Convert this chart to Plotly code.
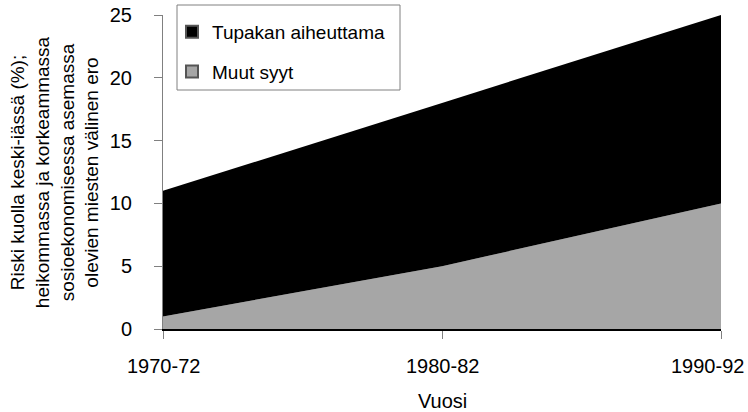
import plotly.graph_objects as go

# Data
vuodet = ["1970-72", "1980-82", "1990-92"]
muut_syyt = [1, 5, 10]
tupakan_aiheuttama = [10, 13, 15]
y_tikit = [0, 5, 10, 15, 20, 25]

y_otsikko = ("Riski kuolla keski-iässä (%);<br>heikommassa ja korkeammassa<br>"
             "sosioekonomisessa asemassa<br>olevien miesten välinen ero")

FONT = "Liberation Sans, Arial, sans-serif"
W, H = 748, 412

fig = go.Figure()

# pinotut alueet
fig.add_trace(go.Scatter(
    x=vuodet, y=muut_syyt, stackgroup="a", mode="none",
    fillcolor="#a6a6a6", showlegend=False
))
fig.add_trace(go.Scatter(
    x=vuodet, y=tupakan_aiheuttama, stackgroup="a", mode="none",
    fillcolor="#000000", showlegend=False
))

# selitteet neliömerkeillä
fig.add_trace(go.Scatter(
    x=[None], y=[None], mode="markers", name="Tupakan aiheuttama", legendgroup="t",
    marker=dict(symbol="square", size=13, color="#000000", line=dict(color="#555", width=1))
))
fig.add_trace(go.Scatter(
    x=[None], y=[None], mode="markers", name="Muut syyt", legendgroup="m",
    marker=dict(symbol="square", size=13, color="#a6a6a6", line=dict(color="#555", width=1))
))

# x-akselin tikkitekstit annotaatioina (viimeinen siirretty vasemmalle kuten Excelissä)
tikki_annot = []
for i, v in enumerate(vuodet):
    viimeinen = i == len(vuodet) - 1
    tikki_annot.append(dict(
        text=v, x=v, xref="x", y=0, yref="paper", yshift=-37,
        xanchor="right" if viimeinen else "center", xshift=25 if viimeinen else 0,
        yanchor="middle", showarrow=False, font=dict(family=FONT, size=20),
    ))

fig.update_layout(
    width=W, height=H,
    margin=dict(l=163, r=27, t=15, b=83, autoexpand=False),
    paper_bgcolor="white", plot_bgcolor="white",
    font=dict(family=FONT, size=20, color="#000"),
    legend=dict(
        xref="container", yref="container",
        x=172 / W, y=1 - 13 / H, xanchor="left", yanchor="top",
        borderwidth=0, bgcolor="rgba(0,0,0,0)",
        font=dict(size=19), itemsizing="constant", traceorder="grouped",
        tracegroupgap=12,
    ),
    # selitelaatikon kehys
    shapes=[dict(
        type="rect", xref="paper", yref="paper",
        x0=(177 - 163) / 558, x1=(400 - 163) / 558,
        y0=(329 - 90) / 314, y1=(329 - 5) / 314,
        line=dict(color="#808080", width=1), fillcolor="white", layer="above",
    )],
    annotations=[dict(
        text=y_otsikko, xref="paper", yref="paper", x=-0.195, y=0.5,
        xanchor="center", yanchor="middle", textangle=-90, showarrow=False,
        font=dict(family=FONT, size=19), align="center",
    ), dict(
        text="Vuosi", xref="paper", yref="paper", x=0.5, y=0, yshift=-72,
        xanchor="center", yanchor="middle", showarrow=False,
        font=dict(family=FONT, size=20),
    )] + tikki_annot,
)

fig.update_xaxes(
    type="category", range=[0, 2], automargin=False,
    showticklabels=False,
    showline=True, linecolor="#000", linewidth=2,
    ticks="outside", ticklen=8, tickcolor="#808080",
    showgrid=False,
)
fig.update_yaxes(
    range=[0, 25], tickvals=y_tikit, automargin=False,
    showline=True, linecolor="#808080", linewidth=1,
    ticks="outside", ticklen=8, tickcolor="#808080",
    ticklabelstandoff=18, showgrid=False, zeroline=False,
)

fig.write_html("out.html", config={"displayModeBar": False},
               post_script="document.body.style.margin='0';")
